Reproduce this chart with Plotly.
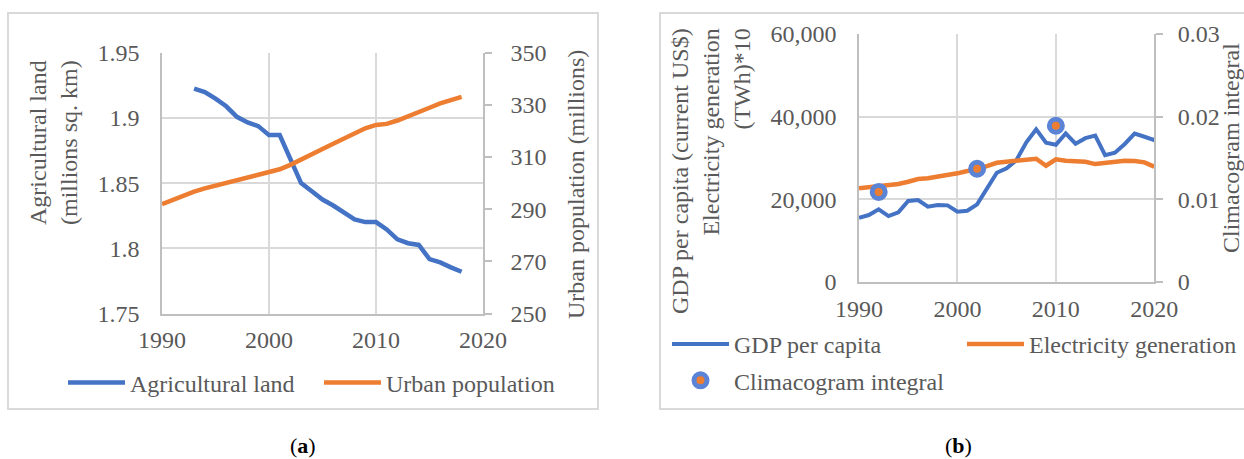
import plotly.graph_objects as go

W, H = 1244, 459

# ---- panel (a) data ----
years_a = list(range(1990, 2019))
urban_pop = [291.9, 293.6, 295.1, 296.7, 298.0, 299.0, 300.1, 301.1, 302.0, 303.0,
             304.2, 305.3, 307.0, 308.9, 311.1, 313.1, 315.1, 317.2, 319.1, 321.0,
             322.3, 322.7, 324.0, 325.5, 327.3, 328.9, 330.6, 331.9, 333.1]
agri_years = list(range(1993, 2019))
agri_land = [1.9224, 1.9198, 1.9148, 1.9089, 1.9008, 1.8965, 1.8937, 1.8868, 1.8868,
             1.8691, 1.8500, 1.8437, 1.8374, 1.8328, 1.8277, 1.8221, 1.8201, 1.8201,
             1.8145, 1.8069, 1.8039, 1.8026, 1.7917, 1.7892, 1.7854, 1.7820]
ticks_a_left = [1.75, 1.8, 1.85, 1.9, 1.95]
ticks_a_right = [250, 270, 290, 310, 330, 350]

# ---- panel (b) data ----
gdp_years = list(range(1990, 2022))
gdp = [15550, 16200, 17580, 15960, 16860, 19590, 19830, 18210, 18620, 18540,
       17000, 17250, 18790, 22660, 26430, 27490, 29500, 33780, 36920, 33690,
       33200, 35960, 33450, 34800, 35400, 30710, 31300, 33400, 35900, 35140,
       34340, 38000]
elec_years = list(range(1990, 2021))
elec = [22660, 22900, 23050, 23220, 23700, 24260, 24910, 25080, 25470, 25710,
        26290, 26840, 27330, 28050, 28850, 29100, 29500, 29670, 29820, 28130,
        29670, 29340, 29260, 29100, 28530, 28850, 29100, 29340, 29260, 28950,
        27880]
clim_years = [1992, 2002, 2010]
clim = [0.0109, 0.0137, 0.0189]
ticks_b_left = [0, 20000, 40000, 60000]
ticks_b_left_txt = ["0", "20,000", "40,000", "60,000"]
ticks_b_right = [0, 0.01, 0.02, 0.03]
ticks_b_right_txt = ["0", "0.01", "0.02", "0.03"]
ticks_year = [1990, 2000, 2010, 2020]

BLUE = "#4472c4"
ORANGE = "#ed7d31"
GRID = "#d9d9d9"
AXIS = "#bfbfbf"
TXT = "#595959"
FONT = "Liberation Serif, Times New Roman, serif"

def px(p):
    return p / W

def py(p):
    return 1 - p / H

fig = go.Figure()

fig.add_trace(go.Scatter(x=agri_years, y=agri_land, name="Agricultural land", mode="lines",
                         line=dict(color=BLUE, width=4.5), xaxis="x", yaxis="y", legend="legend"))
fig.add_trace(go.Scatter(x=years_a, y=urban_pop, name="Urban population", mode="lines",
                         line=dict(color=ORANGE, width=4.5), xaxis="x", yaxis="y2", legend="legend"))

fig.add_trace(go.Scatter(x=gdp_years, y=gdp, name="GDP per capita", mode="lines",
                         line=dict(color=BLUE, width=4), xaxis="x2", yaxis="y3",
                         legend="legend2", legendgroup="g1"))
fig.add_trace(go.Scatter(x=elec_years, y=elec, name="Electricity generation", mode="lines",
                         line=dict(color=ORANGE, width=4.5), xaxis="x2", yaxis="y3",
                         legend="legend3"))
fig.add_trace(go.Scatter(x=clim_years, y=clim, name="Climacogram integral", mode="markers",
                         marker=dict(size=13, color=ORANGE, line=dict(color="#5b83d6", width=5)),
                         xaxis="x2", yaxis="y4", legend="legend2", legendgroup="g2"))

tickfont = dict(family=FONT, size=24, color=TXT)

def xax(domain, anchor):
    return dict(domain=domain, anchor=anchor, range=[1990, 2020], tickvals=ticks_year,
                showgrid=True, gridcolor=GRID, gridwidth=1.5, showline=True,
                linecolor=AXIS, linewidth=1.5, ticks="", tickfont=tickfont,
                ticklabelstandoff=4, zeroline=False, automargin=False)

def yleft(domain, anchor, rng, vals, txt):
    return dict(domain=domain, anchor=anchor, range=rng, tickvals=vals, ticktext=txt,
                showgrid=True, gridcolor=GRID, gridwidth=1.5, showline=True,
                linecolor=AXIS, linewidth=1.5, ticks="", tickfont=tickfont,
                ticklabelstandoff=16, zeroline=False, automargin=False)

def yright(overlay, anchor, rng, vals, txt, standoff):
    return dict(overlaying=overlay, anchor=anchor, side="right", range=rng, tickvals=vals,
                ticktext=txt, showgrid=False, showline=True, linecolor=AXIS, linewidth=1.5,
                ticks="outside", ticklen=7, tickcolor=AXIS, tickwidth=1.5, tickfont=tickfont,
                ticklabelstandoff=standoff, zeroline=False, automargin=False)

dom_ax = [px(162), px(483)]
dom_ay = [py(313.5), py(52.7)]
dom_bx = [px(859), px(1154.3)]
dom_by = [py(282), py(34)]

legfont = dict(family=FONT, size=24, color=TXT)

fig.update_layout(
    width=W, height=H,
    margin=dict(l=0, r=0, t=0, b=0, autoexpand=False),
    paper_bgcolor="white", plot_bgcolor="white",
    font=dict(family=FONT, size=24, color=TXT),
    xaxis=xax(dom_ax, "y"),
    yaxis=yleft(dom_ay, "x", [1.75, 1.95], ticks_a_left, [str(v) for v in ticks_a_left]),
    yaxis2=yright("y", "x", [250, 350], ticks_a_right, [str(v) for v in ticks_a_right], 14),
    xaxis2=xax(dom_bx, "y3"),
    yaxis3=yleft(dom_by, "x2", [0, 60000], ticks_b_left, ticks_b_left_txt),
    yaxis4=yright("y3", "x2", [0, 0.03], ticks_b_right, ticks_b_right_txt, 10),
    legend=dict(orientation="h", x=px(63), y=py(383), xanchor="left", yanchor="middle",
                font=legfont, bgcolor="rgba(0,0,0,0)", itemwidth=57, entrywidth=184),
    legend2=dict(orientation="v", x=px(667), y=py(322), xanchor="left", yanchor="top",
                 font=legfont, bgcolor="rgba(0,0,0,0)", tracegroupgap=2, itemwidth=57),
    legend3=dict(orientation="v", x=px(962), y=py(322), xanchor="left", yanchor="top",
                 font=legfont, bgcolor="rgba(0,0,0,0)", itemwidth=57),
    showlegend=True,
)

# panel borders
for x0, x1 in [(8, 598), (660, 1260)]:
    fig.add_shape(type="rect", xref="paper", yref="paper", x0=px(x0), x1=px(x1),
                  y0=py(409), y1=py(13), line=dict(color=GRID, width=2), layer="below")

# axis titles
titlefont = dict(family=FONT, size=24, color=TXT)
fig.add_annotation(text="Agricultural land<br>(millions sq. km)", textangle=-90,
                   xref="paper", yref="paper", x=px(53), y=py(143), xanchor="center",
                   yanchor="middle", showarrow=False, font=titlefont)
fig.add_annotation(text="Urban population (millions)", textangle=-90,
                   xref="paper", yref="paper", x=px(576), y=py(185), xanchor="center",
                   yanchor="middle", showarrow=False, font=titlefont)
fig.add_annotation(text="GDP per capita (current US$)<br>Electricity generation<br>(TWh)*10",
                   textangle=-90, align="right", xref="paper", yref="paper",
                   x=px(711), y=py(26), xanchor="center", yanchor="top",
                   showarrow=False, font=titlefont)
fig.add_annotation(text="Climacogram integral", textangle=-90,
                   xref="paper", yref="paper", x=px(1231), y=py(148), xanchor="center",
                   yanchor="middle", showarrow=False, font=titlefont)

# captions
for lab, xc in [("a", 303), ("b", 958)]:
    fig.add_annotation(text="(<b>%s</b>)" % lab, xref="paper", yref="paper",
                       x=px(xc), y=py(445), xanchor="center", yanchor="middle",
                       showarrow=False, font=dict(family=FONT, size=22, color="black"))

fig.write_html("out.html", config={"displayModeBar": False},
               post_script="document.body.style.margin='0';")
